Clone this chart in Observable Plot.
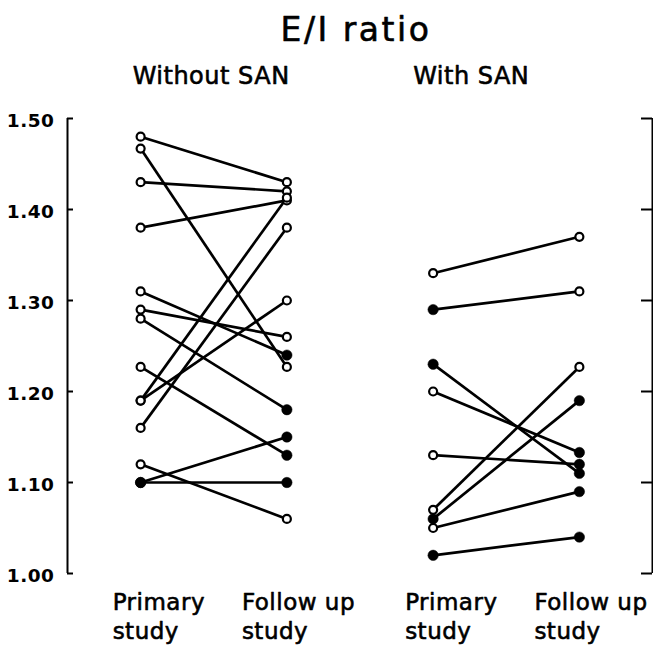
<!DOCTYPE html>
<html><head><meta charset="utf-8">
<script src="https://cdn.jsdelivr.net/npm/d3@7"></script>
<script src="https://cdn.jsdelivr.net/npm/@observablehq/plot@0.6"></script>
<style>
html,body{margin:0;padding:0;background:#fff;}
#chart svg{display:block;}
</style></head><body><div id="chart"></div>
<script>
const title = "E/I ratio";
const groups = ["Without SAN", "With SAN"];
const studyLabels = ["Primary\nstudy", "Follow up\nstudy"];
const yTicks = [1.00, 1.10, 1.20, 1.30, 1.40, 1.50];

// Without SAN: primary -> follow up (1 = filled marker, 0 = open marker)
const withoutPrimary       = [1.48, 1.467, 1.43, 1.38, 1.31, 1.29, 1.28, 1.227, 1.19, 1.19, 1.16, 1.12, 1.10, 1.10];
const withoutFollow        = [1.43, 1.227, 1.42, 1.41, 1.24, 1.26, 1.18, 1.13, 1.413, 1.30, 1.38, 1.06, 1.15, 1.10];
const withoutPrimaryFilled = [0, 0, 0, 0, 0, 0, 0, 0, 0, 0, 0, 0, 1, 1];
const withoutFollowFilled  = [0, 0, 0, 0, 1, 0, 1, 1, 0, 0, 0, 0, 1, 1];

// With SAN
const withPrimary       = [1.33, 1.29, 1.23, 1.20, 1.13, 1.07, 1.06, 1.05, 1.02];
const withFollow        = [1.37, 1.31, 1.11, 1.133, 1.12, 1.227, 1.19, 1.09, 1.04];
const withPrimaryFilled = [0, 1, 1, 0, 0, 0, 1, 0, 1];
const withFollowFilled  = [0, 0, 1, 1, 1, 0, 1, 1, 1];

const W = 653, H = 646, mL = 67, mR = 1, mT = 118, mB = 73;
const frameW = W - mL - mR;
const xDomain = [-0.5, 3.5];

const rows = [];
function addGroup(gi, prim, foll, pf, ff) {
  prim.forEach((v, i) => rows.push({
    group: groups[gi], x1: gi * 2, x2: gi * 2 + 1,
    y1: v, y2: foll[i], f1: pf[i], f2: ff[i]
  }));
}
addGroup(0, withoutPrimary, withoutFollow, withoutPrimaryFilled, withoutFollowFilled);
addGroup(1, withPrimary, withFollow, withPrimaryFilled, withFollowFilled);

const points = rows.flatMap(r => [
  {x: r.x1, y: r.y1, filled: r.f1},
  {x: r.x2, y: r.y2, filled: r.f2}
]);

const xLabels = groups.flatMap((g, gi) => studyLabels.map((s, si) => ({x: gi * 2 + si, study: si, label: s})));
const panelLabels = groups.map((g, gi) => ({x: gi * 2, label: g}));

const font = "DejaVu Sans, sans-serif";
const txt = {fill: "black", stroke: "black", strokeWidth: 0.6};

const chart = Plot.plot({
  width: W, height: H,
  marginLeft: mL, marginRight: mR, marginTop: mT, marginBottom: mB,
  x: {type: "linear", domain: xDomain, axis: null},
  y: {domain: [1.0, 1.5], axis: null},
  style: {fontFamily: font, background: "white", color: "black", overflow: "visible"},
  marks: [
    // axis lines (left and right brackets)
    Plot.ruleX(xDomain, {stroke: "black", strokeWidth: 2}),
    // left inward ticks
    Plot.tickY(yTicks, {y: d => d, insetRight: frameW - 6, stroke: "black", strokeWidth: 2}),
    // right inward ticks
    Plot.tickY(yTicks, {y: d => d, insetLeft: frameW - 11, stroke: "black", strokeWidth: 2}),
    // tick labels
    Plot.text(yTicks, {y: d => d, text: d => d3.format(".2f")(d), frameAnchor: "left",
      textAnchor: "end", dx: -13, dy: 3, fontSize: 18.5, fontWeight: "bold", fill: "black"}),
    // connecting lines
    Plot.link(rows, {x1: "x1", y1: "y1", x2: "x2", y2: "y2", stroke: "black", strokeWidth: 2.7}),
    // open markers
    Plot.dot(points.filter(d => !d.filled), {x: "x", y: "y", r: 4, fill: "white", stroke: "black", strokeWidth: 2.2}),
    // filled markers
    Plot.dot(points.filter(d => d.filled), {x: "x", y: "y", r: 5.2, fill: "black", stroke: "black", strokeWidth: 0.5}),
    // title
    Plot.text([title], {text: d => d, frameAnchor: "top", dx: -4, dy: -88, fontSize: 33,
      lineAnchor: "middle", ...txt}),
    // panel labels
    Plot.text(panelLabels.filter(d => d.x === 0), {x: "x", text: "label", frameAnchor: "top", textAnchor: "start",
      dx: -8, dy: -42, fontSize: 24, lineAnchor: "middle", ...txt}),
    Plot.text(panelLabels.filter(d => d.x !== 0), {x: "x", text: "label", frameAnchor: "top", textAnchor: "start",
      dx: -20, dy: -42, fontSize: 24, lineAnchor: "middle", ...txt}),
    // x category labels
    Plot.text(xLabels.filter(d => d.study === 0), {x: "x", text: "label", frameAnchor: "bottom", textAnchor: "start",
      lineAnchor: "top", dx: -28, dy: 16, fontSize: 23, lineHeight: 1.27, ...txt}),
    Plot.text(xLabels.filter(d => d.study === 1), {x: "x", text: "label", frameAnchor: "bottom", textAnchor: "start",
      lineAnchor: "top", dx: -45, dy: 16, fontSize: 23, lineHeight: 1.27, ...txt})
  ]
});
document.getElementById("chart").appendChild(chart);
const svg = d3.select(chart);
svg.selectAll("text").style("letter-spacing", "0.5px");
svg.selectAll("text").filter(function() { return this.textContent === title; }).style("letter-spacing", "2.5px");
</script></body></html>
